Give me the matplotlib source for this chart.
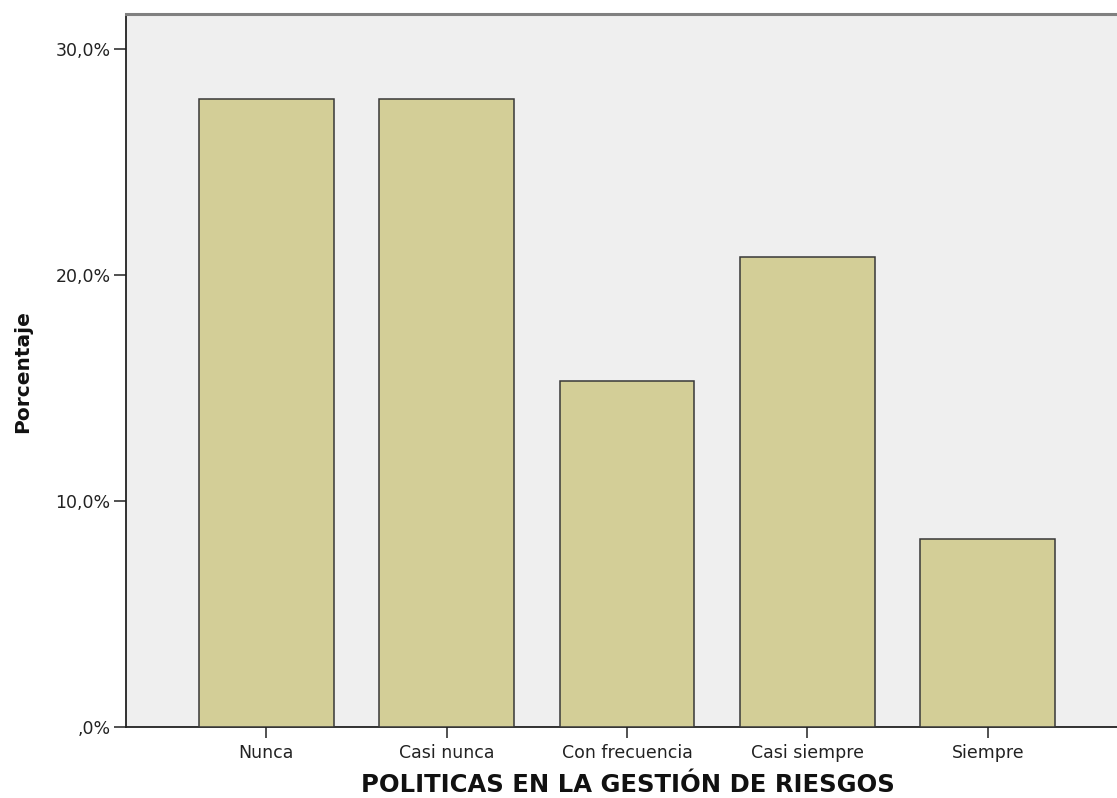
import matplotlib
matplotlib.use("Agg")
import matplotlib.pyplot as plt

categories = ["Nunca", "Casi nunca", "Con frecuencia", "Casi siempre", "Siempre"]
percentages = [27.8, 27.8, 15.3, 20.8, 8.3]
ytick_values = [0, 10, 20, 30]
ytick_labels = [",0%", "10,0%", "20,0%", "30,0%"]
xlabel = "POLITICAS EN LA GESTIÓN DE RIESGOS"
ylabel = "Porcentaje"

plt.rcParams['font.family'] = ['DejaVu Sans']

W, H = 1117, 798
fig = plt.figure(figsize=(W / 100, H / 100), dpi=100)
left_px, right_px, top_px, bottom_px = 126, 1117, 14, 727
ax = fig.add_axes([left_px / W, (H - bottom_px) / H,
                   (right_px - left_px) / W, (bottom_px - top_px) / H])
ax.set_facecolor('#efefef')

x = list(range(len(categories)))
ax.bar(x, percentages, width=0.748, color='#d3ce97', edgecolor='#383838',
       linewidth=1.1, zorder=3)

ax.set_xlim(-0.778, 4.717)
ax.set_ylim(0, 31.55)

ax.set_yticks(ytick_values)
ax.set_yticklabels(ytick_labels)
ax.set_xticks(x)
ax.set_xticklabels(categories)

ax.tick_params(axis='y', direction='out', length=9, width=1.1, pad=2,
               labelsize=12.5, colors='#222222')
ax.tick_params(axis='x', direction='out', length=8, width=1.1, pad=4,
               labelsize=12.5, colors='#222222')

for side in ['left', 'bottom']:
    ax.spines[side].set_color('#222222')
    ax.spines[side].set_linewidth(1.3)
ax.spines['top'].set_color('#808080')
ax.spines['top'].set_linewidth(2.2)
ax.spines['right'].set_visible(False)

ax.set_xlabel(xlabel, fontsize=17.5, fontweight='bold', va='baseline', color='#111111')
ax.xaxis.set_label_coords((627.5 - left_px) / (right_px - left_px),
                          (bottom_px - 792) / (bottom_px - top_px))
ax.set_ylabel(ylabel, fontsize=14.5, fontweight='bold', va='center', ha='center',
              color='#111111')
ax.yaxis.set_label_coords((23 - left_px) / (right_px - left_px), 0.4986)

fig.savefig("out.png", dpi=100)
